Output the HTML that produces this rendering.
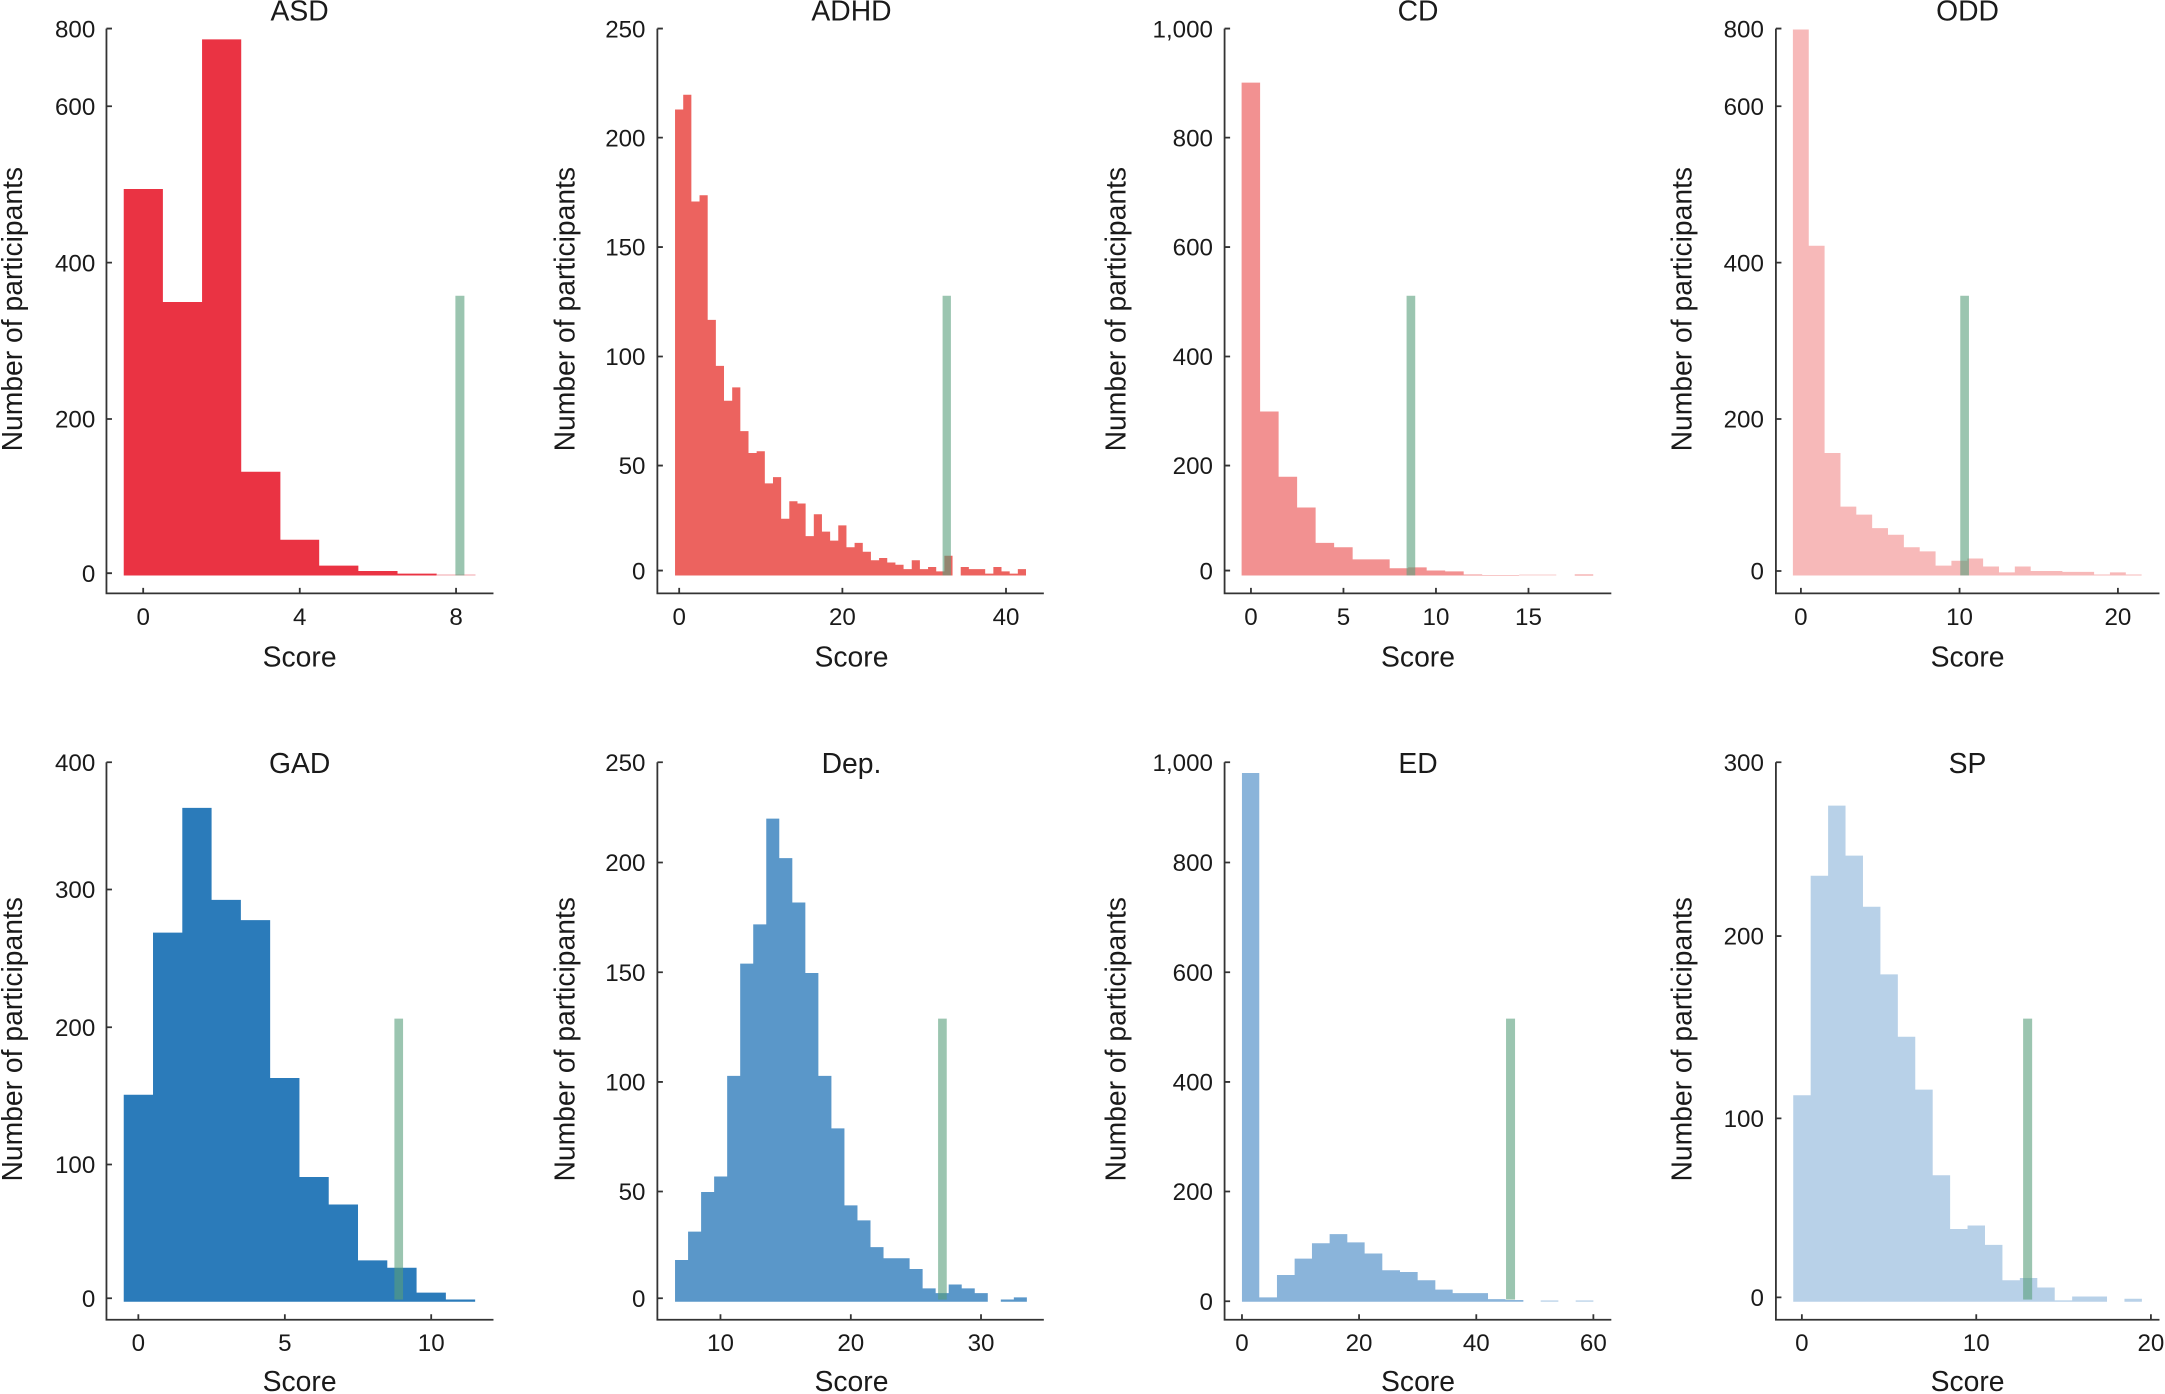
<!DOCTYPE html>
<html><head><meta charset="utf-8"><style>
html,body{margin:0;padding:0;background:#fff;}
svg{display:block;}
text{font-family:"Liberation Sans",sans-serif;fill:#1a1a1a;}
.t{font-size:17.5px;}
.l{font-size:20.5px;}
.ax{stroke:#333;stroke-width:1.3;fill:none;}
</style></head><body>
<svg width="2165" height="1394" viewBox="0 0 1568 1010" preserveAspectRatio="none" xmlns="http://www.w3.org/2000/svg">
<!-- Bars -->
<g transform="translate(-1.5,0) scale(0.251,0.3237)">
<path fill="#ea3343" d="M363 1288 V423 H476 V676 H589 V88 H702 V1056 H815 V1208 H927 V1266 H1040 V1278 H1153 V1284 H1266 V1288 Z"/>
<rect x="1266" y="1286" width="112" height="2" fill="#f19aa0"/>
<rect x="1320" y="662" width="26" height="626" fill="#589e7b" fill-opacity="0.6"/>
</g>
<g transform="translate(389.5,0) scale(0.251,0.3237)">
<path fill="#ec635f" d="M396 1288 V245 H419.6 V212 H443.1 V451 H466.7 V437 H490.2 V716 H513.8 V819 H537.3 V897 H560.9 V867 H584.4 V965 H608 V1014 H631.5 V1010 H655.1 V1082 H678.6 V1068 H702.2 V1161 H725.7 V1122 H749.3 V1127 H772.8 V1200 H796.4 V1151 H819.9 V1190 H843.5 V1210 H867 V1176 H890.6 V1225 H914.1 V1215 H937.7 V1235 H961.2 V1254 H984.8 V1249 H1008.3 V1259 H1031.9 V1264 H1055.4 V1274 H1079 V1254 H1102.5 V1274 H1126.1 V1269 H1149.6 V1279 H1173.2 V1244 H1196.7 V1288 H1220.3 V1269 H1243.8 V1274 H1290.9 V1284 H1314.5 V1269 H1338 V1279 H1361.6 V1284 H1385.1 V1274 H1408.7 V1288 Z"/>
<rect x="1168" y="662" width="24" height="626" fill="#589e7b" fill-opacity="0.6"/>
</g>
<g transform="translate(778.5,0) scale(0.251,0.3237)">
<path fill="#f29191" d="M481 1288 V185 H534.4 V921 H587.8 V1067 H641.2 V1136 H694.6 V1215 H748 V1225 H801.4 V1252 H908.2 V1272 H961.6 V1270 H1015 V1277 H1068.4 V1279 H1121.8 V1286 H1175.2 V1287 H1282 V1288 H1442.2 V1286 H1495.6 V1288 Z"/>
<rect x="1282" y="1286" width="107" height="2" fill="#f7c6c6"/>
<rect x="957" y="662" width="25" height="626" fill="#589e7b" fill-opacity="0.6"/>
</g>
<g transform="translate(1173,0) scale(0.2515,0.3237)">
<path fill="#f7b9b9" d="M499 1288 V66 H544.7 V550 H590.3 V1014 H636 V1134 H681.6 V1152 H727.3 V1182 H772.9 V1197 H818.6 V1225 H864.2 V1234 H909.9 V1266 H955.5 V1255 H1001.2 V1250 H1046.8 V1268 H1092.5 V1281 H1138.1 V1268 H1183.8 V1278 H1275.1 V1280 H1366.4 V1286 H1412 V1281 H1457.7 V1286 H1503.3 V1288 Z"/>
<rect x="981" y="662" width="25" height="626" fill="#589e7b" fill-opacity="0.6"/>
</g>
<g transform="translate(-1.5,521.4) scale(0.251,0.3117)">
<path fill="#2b7bba" d="M363 1353 V872 H447.5 V495 H532 V205 H616.5 V419 H701 V466 H785.5 V833 H870 V1063 H954.5 V1127 H1039 V1257 H1123.5 V1274 H1208 V1332 H1292.5 V1348 H1377 V1353 Z"/>
<rect x="1144" y="695" width="25" height="653" fill="#589e7b" fill-opacity="0.6"/>
</g>
<g transform="translate(389.5,521.4) scale(0.251,0.3117)">
<path fill="#5a97c9" d="M396 1353 V1256 H433.6 V1190 H471.2 V1098 H508.8 V1062 H546.4 V828 H584 V567 H621.6 V476 H659.2 V230 H696.8 V322 H734.4 V425 H772 V589 H809.6 V828 H847.2 V950 H884.8 V1129 H922.4 V1164 H960 V1226 H997.6 V1252 H1072.8 V1277 H1110.4 V1322 H1148 V1333 H1185.6 V1313 H1223.2 V1322 H1260.8 V1333 H1298.4 V1353 H1336 V1348 H1373.6 V1343 H1411.2 V1353 Z"/>
<rect x="1155" y="695" width="25" height="653" fill="#589e7b" fill-opacity="0.6"/>
</g>
<g transform="translate(778.5,521.4) scale(0.251,0.3117)">
<path fill="#8ab4da" d="M482 1353 V124 H532 V1343 H583 V1291 H634 V1253 H684 V1217 H735 V1196 H786 V1215 H836 V1241 H887 V1280 H938 V1284 H989 V1303 H1040 V1325 H1090 V1333 H1192 V1347 H1243 V1349 H1294 V1353 Z"/>
<rect x="1344" y="1350" width="51" height="3" fill="#b8d1e8"/>
<rect x="1445" y="1350" width="51" height="3" fill="#b8d1e8"/>
<rect x="1244" y="695" width="26" height="653" fill="#589e7b" fill-opacity="0.6"/>
</g>
<g transform="translate(1173,521.4) scale(0.2515,0.3117)">
<path fill="#b8d1e8" d="M500 1353 V873 H550.2 V363 H600.4 V200 H650.6 V316 H700.8 V435 H751 V592 H801.2 V737 H851.4 V860 H901.6 V1059 H951.8 V1184 H1002 V1176 H1052.2 V1221 H1102.4 V1303 H1152.6 V1298 H1202.8 V1320 H1253 V1350 H1303.2 V1341 H1403.6 V1353 H1453.8 V1346 H1504 V1353 Z"/>
<rect x="1162" y="695" width="26" height="653" fill="#589e7b" fill-opacity="0.6"/>
</g>

<!-- Axes -->
<path class="ax" d="M77.1 20.7 V429.9 H357.4 M77.1 20.7 h4 M77.1 77 h4 M77.1 190.3 h4 M77.1 303.6 h4 M77.1 415.3 h4 M103.7 429.9 v-4 M217.1 429.9 v-4 M330.3 429.9 v-4"/>
<path class="ax" d="M476.1 20.7 V429.9 H756 M476.1 20.7 h4 M476.1 99.7 h4 M476.1 179 h4 M476.1 258.3 h4 M476.1 337.3 h4 M476.1 413.4 h4 M491.9 429.9 v-4 M610.1 429.9 v-4 M728.6 429.9 v-4"/>
<path class="ax" d="M886.9 20.7 V429.9 H1167 M886.9 20.7 h4 M886.9 99.7 h4 M886.9 179 h4 M886.9 258.3 h4 M886.9 337.3 h4 M886.9 413.4 h4 M906 429.9 v-4 M973 429.9 v-4 M1040 429.9 v-4 M1107 429.9 v-4"/>
<path class="ax" d="M1286.2 20.7 V429.9 H1564 M1286.2 20.7 h4 M1286.2 77 h4 M1286.2 190.3 h4 M1286.2 303.6 h4 M1286.2 413.7 h4 M1304.3 429.9 v-4 M1419.2 429.9 v-4 M1533.9 429.9 v-4"/>
<path class="ax" d="M77.1 552.3 V956.2 H357.4 M77.1 552.3 h4 M77.1 644.5 h4 M77.1 744.3 h4 M77.1 843.7 h4 M77.1 940.6 h4 M100.2 956.2 v-4 M206.3 956.2 v-4 M312.3 956.2 v-4"/>
<path class="ax" d="M476.1 552.3 V956.2 H756 M476.1 552.3 h4 M476.1 624.9 h4 M476.1 704.4 h4 M476.1 783.9 h4 M476.1 863.3 h4 M476.1 940.6 h4 M521.8 956.2 v-4 M616.2 956.2 v-4 M710.5 956.2 v-4"/>
<path class="ax" d="M886.9 552.3 V956.2 H1167 M886.9 552.3 h4 M886.9 624.9 h4 M886.9 704.4 h4 M886.9 783.9 h4 M886.9 863.3 h4 M886.9 942.8 h4 M899.5 956.2 v-4 M984.3 956.2 v-4 M1069.2 956.2 v-4 M1154 956.2 v-4"/>
<path class="ax" d="M1286.2 552.3 V956.2 H1564 M1286.2 552.3 h4 M1286.2 678.2 h4 M1286.2 810.3 h4 M1286.2 940 h4 M1305 956.2 v-4 M1431.3 956.2 v-4 M1557.8 956.2 v-4"/>

<!-- Tick labels -->
<g class="t" text-anchor="end">
<text x="69" y="27">800</text><text x="69" y="83.3">600</text><text x="69" y="196.6">400</text><text x="69" y="309.9">200</text><text x="69" y="421.6">0</text>
<text x="467.5" y="27">250</text><text x="467.5" y="106">200</text><text x="467.5" y="185.3">150</text><text x="467.5" y="264.6">100</text><text x="467.5" y="343.6">50</text><text x="467.5" y="419.7">0</text>
<text x="878.5" y="27">1,000</text><text x="878.5" y="106">800</text><text x="878.5" y="185.3">600</text><text x="878.5" y="264.6">400</text><text x="878.5" y="343.6">200</text><text x="878.5" y="419.7">0</text>
<text x="1277.5" y="27">800</text><text x="1277.5" y="83.3">600</text><text x="1277.5" y="196.6">400</text><text x="1277.5" y="309.9">200</text><text x="1277.5" y="420">0</text>
<text x="69" y="558.6">400</text><text x="69" y="650.8">300</text><text x="69" y="750.6">200</text><text x="69" y="850">100</text><text x="69" y="946.9">0</text>
<text x="467.5" y="558.6">250</text><text x="467.5" y="631.2">200</text><text x="467.5" y="710.7">150</text><text x="467.5" y="790.2">100</text><text x="467.5" y="869.6">50</text><text x="467.5" y="946.9">0</text>
<text x="878.5" y="558.6">1,000</text><text x="878.5" y="631.2">800</text><text x="878.5" y="710.7">600</text><text x="878.5" y="790.2">400</text><text x="878.5" y="869.6">200</text><text x="878.5" y="949.1">0</text>
<text x="1277.5" y="558.6">300</text><text x="1277.5" y="684.5">200</text><text x="1277.5" y="816.6">100</text><text x="1277.5" y="946.3">0</text>
</g>
<g class="t" text-anchor="middle">
<text x="103.7" y="453">0</text><text x="217.1" y="453">4</text><text x="330.3" y="453">8</text>
<text x="491.9" y="453">0</text><text x="610.1" y="453">20</text><text x="728.6" y="453">40</text>
<text x="906" y="453">0</text><text x="973" y="453">5</text><text x="1040" y="453">10</text><text x="1107" y="453">15</text>
<text x="1304.3" y="453">0</text><text x="1419.2" y="453">10</text><text x="1533.9" y="453">20</text>
<text x="100.2" y="979">0</text><text x="206.3" y="979">5</text><text x="312.3" y="979">10</text>
<text x="521.8" y="979">10</text><text x="616.2" y="979">20</text><text x="710.5" y="979">30</text>
<text x="899.5" y="979">0</text><text x="984.3" y="979">20</text><text x="1069.2" y="979">40</text><text x="1154" y="979">60</text>
<text x="1305" y="979">0</text><text x="1431.3" y="979">10</text><text x="1557.8" y="979">20</text>
</g>
<!-- Titles & axis labels -->
<g class="l" text-anchor="middle">
<text x="217" y="15">ASD</text><text x="616.7" y="15">ADHD</text><text x="1027" y="15">CD</text><text x="1425" y="15">ODD</text>
<text x="217" y="560">GAD</text><text x="616.7" y="560">Dep.</text><text x="1027" y="560">ED</text><text x="1425" y="560">SP</text>
<text x="217" y="483">Score</text><text x="616.7" y="483">Score</text><text x="1027" y="483">Score</text><text x="1425" y="483">Score</text>
<text x="217" y="1008">Score</text><text x="616.7" y="1008">Score</text><text x="1027" y="1008">Score</text><text x="1425" y="1008">Score</text>
<text transform="translate(16,224) rotate(-90)">Number of participants</text>
<text transform="translate(416,224) rotate(-90)">Number of participants</text>
<text transform="translate(815,224) rotate(-90)">Number of participants</text>
<text transform="translate(1225,224) rotate(-90)">Number of participants</text>
<text transform="translate(16,753) rotate(-90)">Number of participants</text>
<text transform="translate(416,753) rotate(-90)">Number of participants</text>
<text transform="translate(815,753) rotate(-90)">Number of participants</text>
<text transform="translate(1225,753) rotate(-90)">Number of participants</text>
</g>
</svg>
</body></html>
